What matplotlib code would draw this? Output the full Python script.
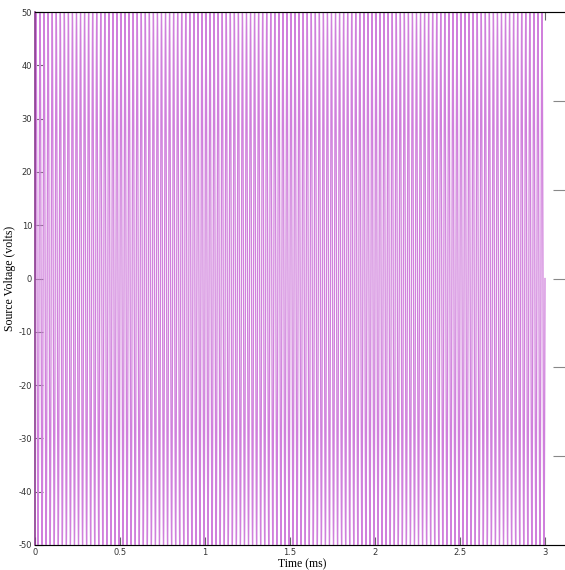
import numpy as np
import matplotlib
matplotlib.use('Agg')
import matplotlib.pyplot as plt

plt.rcParams['path.simplify'] = False
plt.rcParams['axes.unicode_minus'] = False

# source voltage: a sine of 50 V amplitude, very high frequency
amplitude_v = 50
freq_khz = 42
t_end_ms = 3

x_ticks = [0, 0.5, 1, 1.5, 2, 2.5, 3]
x_tick_labels = ['0', '0.5', '1', '1.5', '2', '2.5', '3']
y_ticks = [-50, -40, -30, -20, -10, 0, 10, 20, 30, 40, 50]

t = np.linspace(0, t_end_ms, 60000)
v = amplitude_v * np.sin(2 * np.pi * freq_khz * t)

fig = plt.figure(figsize=(5.65, 5.70), dpi=100)
# axes box: left at 35px, top at 12px, bottom at 545px, running off the right edge
ax = fig.add_axes([35/565, 25/570, 535/565, 533/570])

ax.plot(t, v, color='#d080dc', linewidth=0.9, snap=False)

ax.set_xlim(0, 3 * 535 / 510)
ax.set_ylim(-50, 50)
ax.set_xticks(x_ticks)
ax.set_xticklabels(x_tick_labels)
ax.set_yticks(y_ticks)
ax.tick_params(direction='in', length=6, width=0.8, color='#666666',
               top=True, labelsize=6, pad=2, labelcolor='#333333')

for s in ['bottom', 'top', 'right']:
    ax.spines[s].set_color('#777777')
    ax.spines[s].set_linewidth(0.8)
ax.spines['left'].set_color('#8a3a90')
ax.spines['left'].set_linewidth(1.2)

# second scale on the right, only its ticks show
ax2 = ax.twinx()
ax2.set_ylim(0, 6)
ax2.set_yticks([1, 2, 3, 4, 5])
ax2.set_yticklabels([])
ax2.tick_params(direction='in', length=12, width=0.8, color='#888888')
ax2.spines['left'].set_visible(False)

ax.set_xlabel('Time (ms)', family='Liberation Serif', fontsize=8.5, labelpad=1)
ax.set_ylabel('Source Voltage (volts)', family='Liberation Serif', fontsize=8.5, labelpad=2)

fig.savefig('out.png', dpi=100)
